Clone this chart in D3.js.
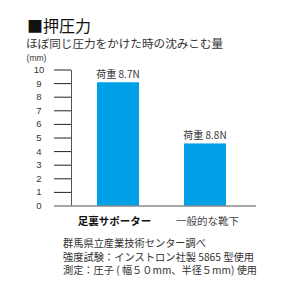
<!DOCTYPE html>
<html><head><meta charset="utf-8">
<script src="https://cdn.jsdelivr.net/npm/d3@7"></script>
<style>body{margin:0;background:#fff}svg{display:block}text{font-family:"Noto Sans CJK JP","Noto Sans",sans-serif}</style>
</head><body>
<script>
const categories = ["足裏サポーター", "一般的な靴下"];
const values = [9.1, 4.6];
const barLabels = ["荷重 8.7N", "荷重 8.8N"];
const yTicks = [0,1,2,3,4,5,6,7,8,9,10];
const title = "■押圧力";
const subtitle = "ほぼ同じ圧力をかけた時の沈みこむ量";
const unit = "(mm)";
const notes = ["群馬県立産業技術センター調べ", "強度試験：インストロン社製 5865 型使用", "測定：圧子 ( 幅５０mm、半径５mm) 使用"];

const W = 293, H = 290;
const svg = d3.select("body").append("svg").attr("width", W).attr("height", H);

const y = d3.scaleLinear().domain([0, 10]).range([206, 70]);
const x = d3.scaleBand().domain(categories).range([71, 252]).paddingInner(0.517).paddingOuter(0.299);

svg.append("text").attr("x", 27).attr("y", 31.5).attr("font-size", 16).attr("fill", "#111").text(title);
svg.append("text").attr("x", 26).attr("y", 47.5).attr("font-size", 11.6).attr("fill", "#333").text(subtitle);
svg.append("text").attr("x", 36.5).attr("y", 61).attr("font-size", 8.5).attr("text-anchor", "middle")
  .style("font-family", "'Liberation Sans', Arial, sans-serif").attr("fill", "#333").text(unit);

// y tick marks
svg.selectAll("line.tick").data(yTicks.filter(d => d > 0)).join("line")
  .attr("x1", 54).attr("x2", 71).attr("y1", d => y(d)).attr("y2", d => y(d))
  .attr("stroke", "#222").attr("stroke-width", 1);
svg.selectAll("text.yl").data(yTicks).join("text")
  .attr("x", 39).attr("y", d => y(d) + 3).attr("text-anchor", "middle")
  .style("font-family", "'Liberation Sans', Arial, sans-serif")
  .attr("font-size", 9.5).attr("fill", "#333").text(d => d);

// bars
svg.selectAll("rect.bar").data(values).join("rect")
  .attr("x", (d, i) => x(categories[i])).attr("width", x.bandwidth())
  .attr("y", d => y(d)).attr("height", d => y(0) - y(d))
  .attr("fill", "#00a0e6");

// axis line
svg.append("line").attr("x1", 71.5).attr("x2", 71.5).attr("y1", y(10)).attr("y2", y(0))
  .attr("stroke", "#555").attr("stroke-width", 1);
// baseline
svg.append("line").attr("x1", 54).attr("x2", 256).attr("y1", y(0)).attr("y2", y(0))
  .attr("stroke", "#8a8a8a").attr("stroke-width", 1.6);

// bar labels
svg.selectAll("text.bl").data(values).join("text")
  .attr("x", (d, i) => x(categories[i]) + x.bandwidth() / 2).attr("y", d => y(d) - 4)
  .attr("text-anchor", "middle").attr("font-size", 10).attr("fill", "#333")
  .text((d, i) => barLabels[i]);

// category labels
svg.selectAll("text.cat").data(categories).join("text")
  .attr("x", (d, i) => x(d) + x.bandwidth() / 2 + (i === 0 ? -3.5 : 2.5)).attr("y", 225)
  .attr("text-anchor", "middle").attr("font-size", 10.5)
  .attr("font-weight", (d, i) => i === 0 ? "bold" : "normal")
  .attr("fill", (d, i) => i === 0 ? "#111" : "#444")
  .text(d => d);

// notes
const noteW = [143, 191, 194];
svg.selectAll("text.note").data(notes).join("text")
  .attr("x", 63).attr("y", (d, i) => 247 + i * 13.5)
  .attr("font-size", 10.5).attr("fill", "#333")
  .attr("textLength", (d, i) => noteW[i]).attr("lengthAdjust", "spacingAndGlyphs")
  .text(d => d);
</script>
</body></html>
